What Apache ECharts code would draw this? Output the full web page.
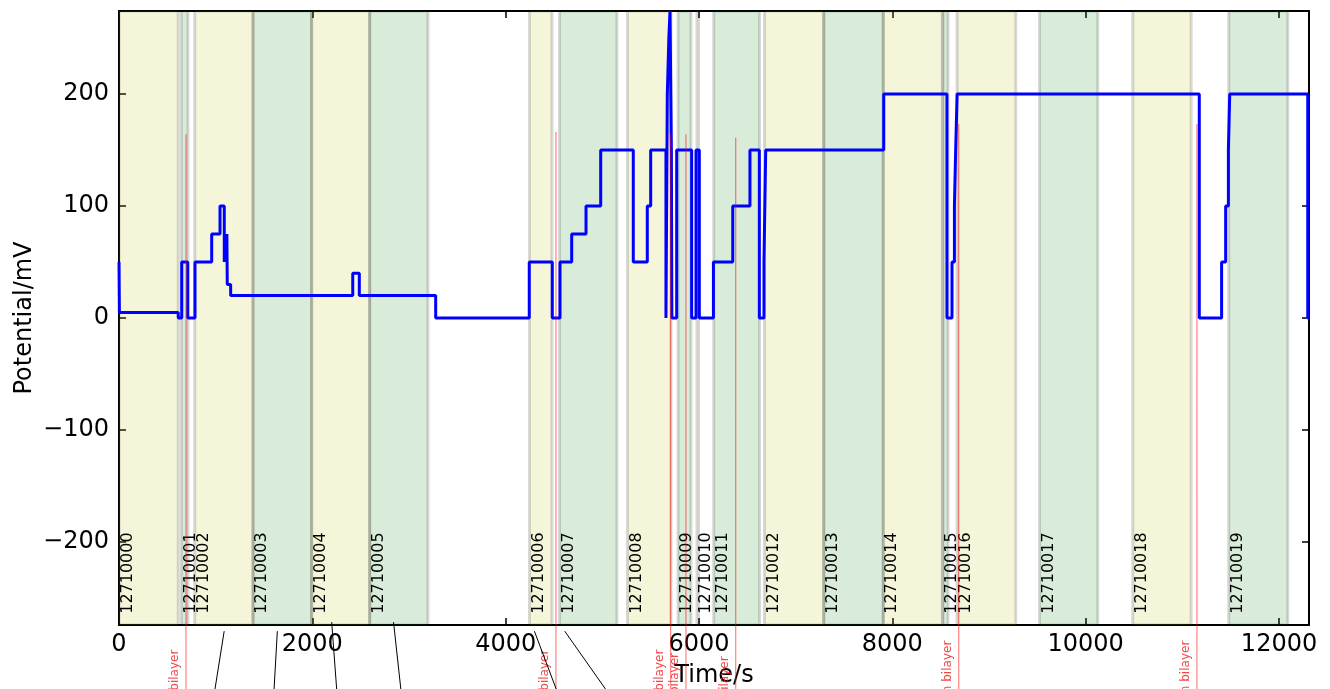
<!DOCTYPE html>
<html>
<head>
<meta charset="utf-8">
<script src="https://cdn.jsdelivr.net/npm/echarts@6/dist/echarts.min.js"></script>
<style>
html, body { margin: 0; padding: 0; background: #fff; }
#chart { width: 1330px; height: 689px; }
</style>
</head>
<body>
<div id="chart"></div>
<script>
// step trace: potential holds from each time until the next one
var stepTime = [0, 4, 613, 649, 711, 786, 959, 1045, 1089, 1095, 1100, 1106, 1112, 1116, 1120, 1155, 2418, 2486, 3276, 4244,
	4482, 4562, 4683, 4831, 4983, 5320, 5465, 5500, 5658, 5672, 5688, 5700, 5714, 5719, 5769, 5924, 5969, 6003, 6149, 6349,
	6527, 6624, 6672, 6690, 7911, 8565, 8617, 8642, 8655, 8670, 11175, 11406, 11448, 11476, 11490, 12297, 12310];
var stepPotential = [50, 5, 0, 50, 0, 50, 75, 100, 50, 75, 50, 75, 50, 75, 30, 20, 40, 20, 0, 50,
	0, 50, 75, 100, 150, 50, 100, 150, 0, 200, 250, 274, 150, 0, 150, 0, 150, 0, 50, 100,
	150, 0, 50, 150, 200, 0, 50, 100, 150, 200, 0, 50, 100, 150, 200, 0, 0];

// recording files shown as shaded spans
var bandNames = ['12710000', '12710001', '12710002', '12710003', '12710004', '12710005', '12710006', '12710007', '12710008', '12710009',
	'12710010', '12710011', '12710012', '12710013', '12710014', '12710015', '12710016', '12710017', '12710018', '12710019'];
var bandStart = [0, 645, 783, 1386, 1993, 2593, 4246, 4557, 5260, 5783, 5979, 6152, 6677, 7290, 7906, 8524, 8669, 9522, 10487, 11480];
var bandEnd = [613, 714, 1386, 1993, 2593, 3196, 4479, 5151, 5710, 5917, 5995, 6626, 7290, 7906, 8517, 8576, 9277, 10125, 11091, 12091];

// red event markers
var markTime = [693, 4520, 5707, 5865, 6380, 8687, 11151];
var markTop = [164, 166, 164, 164, 161, 173, 173];
var markTextEnd = [-296, -296, -296, -299, -302, -288, -288];
var markText = ['new bilayer', 'new bilayer', 'new bilayer', 'new bilayer', 'new bilayer', 'broken bilayer', 'broken bilayer'];

// black pointer lines under the axis
var pointerFromTime = [1088, 1638, 2200, 2840, 4297, 4611];
var pointerFromPot = [-279.5, -279.5, -271.4, -271.4, -279.5, -279.5];
var pointerToTime = [973, 1597, 2261, 2929, 4570, 5121];
var pointerToPot = [-342, -342, -342, -342, -342, -342];

var xTicks = [0, 2000, 4000, 6000, 8000, 10000, 12000];
var yTicks = [-200, -100, 0, 100, 200];
var xMax = 12310;
var yLim = 274;

var font = '"DejaVu Sans", sans-serif';

function minusFormat(v) {
	return v < 0 ? '\u2212' + (-v) : String(v);
}

function baseAxis(extra) {
	var a = {
		type: 'value',
		nameMoveOverlap: false,
		axisLine: { show: true, onZero: false, lineStyle: { color: '#000', width: 2 } },
		axisTick: { show: true, inside: true, length: 7, lineStyle: { color: '#000', width: 1.5 } },
		splitLine: { show: false },
		axisLabel: { show: false }
	};
	for (var k in extra) a[k] = extra[k];
	return a;
}

var chart = echarts.init(document.getElementById('chart'), null, { renderer: 'canvas' });

var stepData = [];
for (var i = 0; i < stepTime.length; i++) stepData.push([stepTime[i], stepPotential[i]]);

var bandData = [];
for (var i = 0; i < bandStart.length; i++) bandData.push([bandStart[i], bandEnd[i]]);

var markData = [];
for (var i = 0; i < markTime.length; i++) markData.push([markTime[i], markTop[i], markTextEnd[i]]);

var pointerData = [];
for (var i = 0; i < pointerFromTime.length; i++) {
	pointerData.push([pointerFromTime[i], pointerFromPot[i], pointerToTime[i], pointerToPot[i]]);
}

chart.setOption({
	animation: false,
	backgroundColor: '#fff',
	grid: { left: 119, right: 21, top: 11, bottom: 64, containLabel: false, outerBoundsMode: 'none' },
	xAxis: [
		baseAxis({
			position: 'bottom', min: 0, max: xMax,
			name: 'Time/s', nameLocation: 'middle', nameGap: 39,
			nameTextStyle: { fontFamily: font, fontSize: 24, color: '#000' },
			axisTick: { show: true, inside: true, length: 7, customValues: xTicks, lineStyle: { color: '#000', width: 1.5 } },
			axisLabel: { show: true, customValues: xTicks, margin: 8, fontFamily: font, fontSize: 24, color: '#000', formatter: minusFormat }
		}),
		baseAxis({
			position: 'top', min: 0, max: xMax,
			axisTick: { show: true, inside: true, length: 7, customValues: xTicks, lineStyle: { color: '#000', width: 1.5 } }
		})
	],
	yAxis: [
		baseAxis({
			position: 'left', min: -yLim, max: yLim,
			name: 'Potential/mV', nameLocation: 'middle', nameGap: 82,
			nameTextStyle: { fontFamily: font, fontSize: 24, color: '#000' },
			axisTick: { show: true, inside: true, length: 7, customValues: yTicks, lineStyle: { color: '#000', width: 1.5 } },
			axisLabel: { show: true, customValues: yTicks, margin: 10, fontFamily: font, fontSize: 24, color: '#000', formatter: minusFormat }
		}),
		baseAxis({
			position: 'right', min: -yLim, max: yLim,
			axisTick: { show: true, inside: true, length: 7, customValues: yTicks, lineStyle: { color: '#000', width: 1.5 } }
		})
	],
	series: [
		{
			type: 'custom',
			name: 'files',
			clip: true,
			z: 1,
			data: bandData,
			encode: { x: [0, 1] },
			renderItem: function (params, api) {
				var p0 = api.coord([api.value(0), yLim]);
				var p1 = api.coord([api.value(1), -yLim]);
				var labelAt = api.coord([api.value(0), -264]);
				var even = params.dataIndex % 2 == 0;
				return {
					type: 'group',
					children: [
						{
							type: 'rect',
							shape: { x: p0[0], y: p0[1], width: p1[0] - p0[0], height: p1[1] - p0[1] },
							style: {
								fill: even ? 'rgba(191,191,0,0.15)' : 'rgba(0,128,0,0.15)',
								stroke: 'rgba(0,0,0,0.15)',
								lineWidth: 3
							}
						},
						{
							type: 'text',
							x: labelAt[0] + 1,
							y: labelAt[1],
							rotation: Math.PI / 2,
							style: {
								text: bandNames[params.dataIndex],
								fill: '#000',
								font: '16px ' + font,
								align: 'left',
								verticalAlign: 'top'
							}
						}
					]
				};
			}
		},
		{
			type: 'line',
			name: 'potential',
			step: 'end',
			showSymbol: false,
			z: 3,
			data: stepData,
			lineStyle: { color: '#0000ff', width: 3 }
		},
		{
			type: 'custom',
			name: 'events',
			clip: false,
			z: 4,
			data: markData,
			encode: { x: 0, y: 1 },
			renderItem: function (params, api) {
				var top = api.coord([api.value(0), api.value(1)]);
				var bottom = api.coord([api.value(0), -420]);
				var textAt = api.coord([api.value(0), api.value(2)]);
				return {
					type: 'group',
					children: [
						{
							type: 'line',
							shape: { x1: top[0], y1: top[1], x2: bottom[0], y2: bottom[1] },
							style: { stroke: 'rgba(255,0,0,0.6)', lineWidth: 1 }
						},
						{
							type: 'text',
							x: textAt[0] - 5,
							y: textAt[1],
							rotation: Math.PI / 2,
							style: {
								text: markText[params.dataIndex],
								fill: 'rgba(240,40,40,0.85)',
								font: '12px ' + font,
								align: 'right',
								verticalAlign: 'bottom'
							}
						}
					]
				};
			}
		},
		{
			type: 'custom',
			name: 'pointers',
			clip: false,
			z: 4,
			data: pointerData,
			encode: { x: [0, 2], y: [1, 3] },
			renderItem: function (params, api) {
				var a = api.coord([api.value(0), api.value(1)]);
				var b = api.coord([api.value(2), api.value(3)]);
				return {
					type: 'line',
					shape: { x1: a[0], y1: a[1], x2: b[0], y2: b[1] },
					style: { stroke: '#000', lineWidth: 1 }
				};
			}
		}
	]
});
</script>
</body>
</html>
